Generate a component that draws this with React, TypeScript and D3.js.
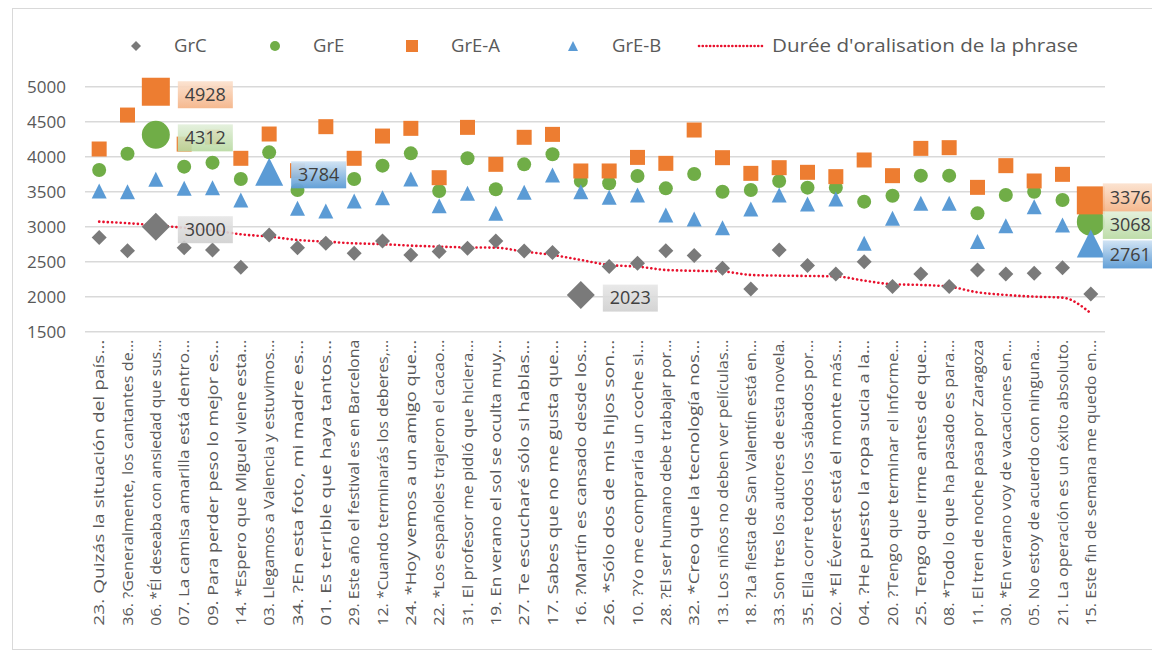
import React from "react";
import * as d3 from "d3";

const categories = [
  "23. Quizás la situación del país…",
  "36. ?Generalmente, los cantantes de…",
  "06. *Él deseaba con ansiedad que sus…",
  "07. La camisa amarilla está dentro…",
  "09. Para perder peso lo mejor es…",
  "14. *Espero que Miguel viene esta…",
  "03. Llegamos a Valencia y estuvimos…",
  "34. ?En esta foto, mi madre es…",
  "01. Es terrible que haya tantos…",
  "29. Este año el festival es en Barcelona",
  "12. *Cuando terminarás los deberes,…",
  "24. *Hoy vemos a un amigo que…",
  "22. *Los españoles trajeron el cacao…",
  "31. El profesor me pidió que hiciera…",
  "19. En verano el sol se oculta muy…",
  "27. Te escucharé sólo si hablas…",
  "17. Sabes que no me gusta que…",
  "16. ?Martín es cansado desde los…",
  "26. *Sólo dos de mis hijos son…",
  "10. ?Yo me compraría un coche si…",
  "28. ?El ser humano debe trabajar por…",
  "32. *Creo que la tecnología nos…",
  "13. Los niños no deben ver películas…",
  "18. ?La fiesta de San Valentín está en…",
  "33. Son tres los autores de esta novela.",
  "35. Ella corre todos los sábados por…",
  "02. *El Éverest está el monte más…",
  "04. ?He puesto la ropa sucia a la…",
  "20. ?Tengo que terminar el informe…",
  "25. Tengo que irme antes de que…",
  "08. *Todo lo que ha pasado es para…",
  "11. El tren de noche pasa por Zaragoza",
  "30. *En verano voy de vacaciones en…",
  "05. No estoy de acuerdo con ninguna…",
  "21. La operación es un éxito absoluto.",
  "15. Este fin de semana me quedo en…",
];

const grC = [2844, 2658, 3000, 2700, 2667, 2420, 2882, 2700, 2763, 2620, 2796, 2596, 2644, 2691, 2796, 2653, 2630, 2023, 2430, 2477, 2658, 2587, 2406, 2111, 2668, 2444, 2325, 2501, 2144, 2325, 2144, 2382, 2325, 2334, 2415, 2039];
const grE = [3810, 4043, 4312, 3858, 3915, 3681, 4062, 3524, 3750, 3681, 3872, 4048, 3510, 3977, 3534, 3891, 4034, 3653, 3620, 3724, 3548, 3753, 3500, 3524, 3653, 3558, 3558, 3358, 3443, 3729, 3729, 3191, 3453, 3500, 3382, 3068];
const grEA = [4110, 4595, 4928, 4180, 4280, 3977, 4324, 3800, 4429, 3977, 4295, 4405, 3700, 4419, 3891, 4277, 4319, 3796, 3796, 3990, 3905, 4381, 3986, 3762, 3843, 3777, 3715, 3953, 3729, 4119, 4129, 3562, 3872, 3653, 3748, 3376];
const grEB = [3510, 3500, 3677, 3548, 3558, 3382, 3784, 3262, 3224, 3367, 3415, 3681, 3300, 3477, 3191, 3491, 3739, 3500, 3420, 3453, 3167, 3110, 2986, 3253, 3453, 3324, 3396, 2763, 3120, 3334, 3334, 2787, 3015, 3286, 3025, 2761];
const duree = [3072, 3050, 3020, 2985, 2950, 2891, 2858, 2810, 2787, 2763, 2750, 2730, 2715, 2705, 2700, 2644, 2596, 2525, 2453, 2430, 2382, 2370, 2360, 2311, 2301, 2296, 2290, 2230, 2177, 2168, 2144, 2063, 2025, 2001, 1987, 1763];

const yTicks = [1500, 2000, 2500, 3000, 3500, 4000, 4500, 5000];

// highlighted points (index in categories) with their data label
const highlights = [
  { series: "GrC", index: 2 },
  { series: "GrC", index: 17 },
  { series: "GrE", index: 2 },
  { series: "GrE", index: 35 },
  { series: "GrE-A", index: 2 },
  { series: "GrE-A", index: 35 },
  { series: "GrE-B", index: 6 },
  { series: "GrE-B", index: 35 },
];

type Shape = "diamond" | "circle" | "square" | "triangle";

const series: { name: string; values: number[]; shape: Shape; color: string; size: number; light: [string, string] }[] = [
  { name: "GrC", values: grC, shape: "diamond", color: "#7a7a7a", size: 15, light: ["#e6e6e6", "#cfcfcf"] },
  { name: "GrE", values: grE, shape: "circle", color: "#70ad47", size: 14, light: ["#e2efda", "#b7d9a0"] },
  { name: "GrE-A", values: grEA, shape: "square", color: "#ed7d31", size: 15, light: ["#fbe0cc", "#f4b183"] },
  { name: "GrE-B", values: grEB, shape: "triangle", color: "#5b9bd5", size: 15, light: ["#cfe2f3", "#5b9bd5"] },
];

function marker(shape: Shape, s: number) {
  const h = s / 2;
  if (shape === "square") return `M${-h},${-h}H${h}V${h}H${-h}Z`;
  if (shape === "diamond") return `M0,${-h}L${h},0L0,${h}L${-h},0Z`;
  if (shape === "triangle") return `M0,${-h}L${h},${h}L${-h},${h}Z`;
  return `M${-h},0A${h},${h} 0 1,0 ${h},0A${h},${h} 0 1,0 ${-h},0Z`;
}

const FONT = "'Open Sans', 'Liberation Sans', sans-serif";
const TXT = "#595959";

export default function App() {
  const W = 1152;
  const H = 662;
  const left = 85;
  const right = 1105;
  const top = 86.7;
  const bottom = 331.7;

  const x = d3.scaleBand<string>().domain(categories).range([left, right]);
  const cx = (i: number) => (x(categories[i]) as number) + x.bandwidth() / 2;
  const y = d3.scaleLinear().domain([1500, 5000]).range([bottom, top]);

  const line = d3
    .line<number>()
    .x((_, i) => cx(i))
    .y((d) => y(d))
    .curve(d3.curveMonotoneX);

  const isBig = (name: string, i: number) =>
    highlights.some((h) => h.series === name && h.index === i);

  // label placement offsets for data labels (dy relative to point)
  const labelDy: Record<string, number> = {
    "GrE-A-35": -6,
    "GrE-35": 0,
    "GrE-B-35": 8,
  };

  const legend = [
    { label: "GrC", shape: "diamond" as Shape, color: "#7a7a7a", mx: 136, tx: 174 },
    { label: "GrE", shape: "circle" as Shape, color: "#70ad47", mx: 275, tx: 313 },
    { label: "GrE-A", shape: "square" as Shape, color: "#ed7d31", mx: 412, tx: 451 },
    { label: "GrE-B", shape: "triangle" as Shape, color: "#5b9bd5", mx: 573, tx: 612 },
  ];

  return (
    <svg
      width={W}
      height={H}
      style={{ position: "absolute", left: 0, top: 0, background: "#fff" }}
      fontFamily={FONT}
    >
      <defs>
        {series.map((s) => (
          <linearGradient key={s.name} id={`lg-${s.name}`} x1="0" y1="0" x2="0" y2="1">
            <stop offset="0" stopColor={s.light[0]} />
            <stop offset="1" stopColor={s.light[1]} />
          </linearGradient>
        ))}
      </defs>
      <rect x={12.5} y={8.5} width={1160} height={641} fill="#fff" stroke="#d9d9d9" />

      {/* gridlines */}
      {yTicks.map((t) => (
        <g key={t}>
          <line x1={left} x2={right} y1={y(t)} y2={y(t)} stroke="#d9d9d9" strokeWidth={1.5} />
          <text x={66} y={y(t)} dy="0.35em" textAnchor="end" fontSize={17} fill={TXT}>
            {t}
          </text>
        </g>
      ))}

      {/* category labels */}
      {categories.map((c, i) => (
        <text
          key={c}
          transform={`translate(${cx(i)},${bottom + 8}) rotate(-90)`}
          textAnchor="end"
          dy="0.35em"
          fontSize={14.6}
          fill={TXT}
          textLength={286}
          lengthAdjust="spacingAndGlyphs"
        >
          {c}
        </text>
      ))}

      {/* duration line */}
      <path
        d={line(duree) || ""}
        fill="none"
        stroke="#e8112d"
        strokeWidth={2.6}
        strokeDasharray="0.1 4.2"
        strokeLinecap="round"
      />

      {/* markers */}
      {series.map((s) => (
        <g key={s.name}>
          {s.values.map((v, i) => (
            <path
              key={i}
              d={marker(s.shape, isBig(s.name, i) ? 28 : s.size)}
              transform={`translate(${cx(i)},${y(v)})`}
              fill={s.color}
            />
          ))}
        </g>
      ))}

      {/* data labels */}
      {highlights.map((h) => {
        const s = series.find((d) => d.name === h.series)!;
        const v = s.values[h.index];
        const key = `${h.series}-${h.index}`;
        const isLast = h.index === categories.length - 1;
        const bx = cx(h.index) + (isLast ? 12 : 22);
        const by = y(v) + 3 + (labelDy[key] ?? 0);
        const w = 55;
        const hh = isLast ? 28 : 27;
        return (
          <g key={key}>
            <rect
              x={bx}
              y={by - hh / 2}
              width={w}
              height={hh}
              fill={`url(#lg-${s.name})`}
              opacity={s.name === "GrE-B" ? 0.95 : 0.9}
            />
            <text x={bx + w / 2} y={by} dy="0.35em" textAnchor="middle" fontSize={18} fill="#404040">
              {v}
            </text>
          </g>
        );
      })}

      {/* legend */}
      {legend.map((l) => (
        <g key={l.label}>
          <path d={marker(l.shape, l.shape === "square" ? 12 : 10)} transform={`translate(${l.mx},46)`} fill={l.color} />
          <text x={l.tx} y={46} dy="0.35em" fontSize={18.5} fill={TXT}>
            {l.label}
          </text>
        </g>
      ))}
      <line
        x1={699}
        x2={764}
        y1={46}
        y2={46}
        stroke="#e8112d"
        strokeWidth={2.6}
        strokeDasharray="0.1 3.6"
        strokeLinecap="round"
      />
      <text x={772} y={46} dy="0.35em" fontSize={18.5} fill={TXT} textLength={306} lengthAdjust="spacingAndGlyphs">
        Durée d'oralisation de la phrase
      </text>
    </svg>
  );
}
